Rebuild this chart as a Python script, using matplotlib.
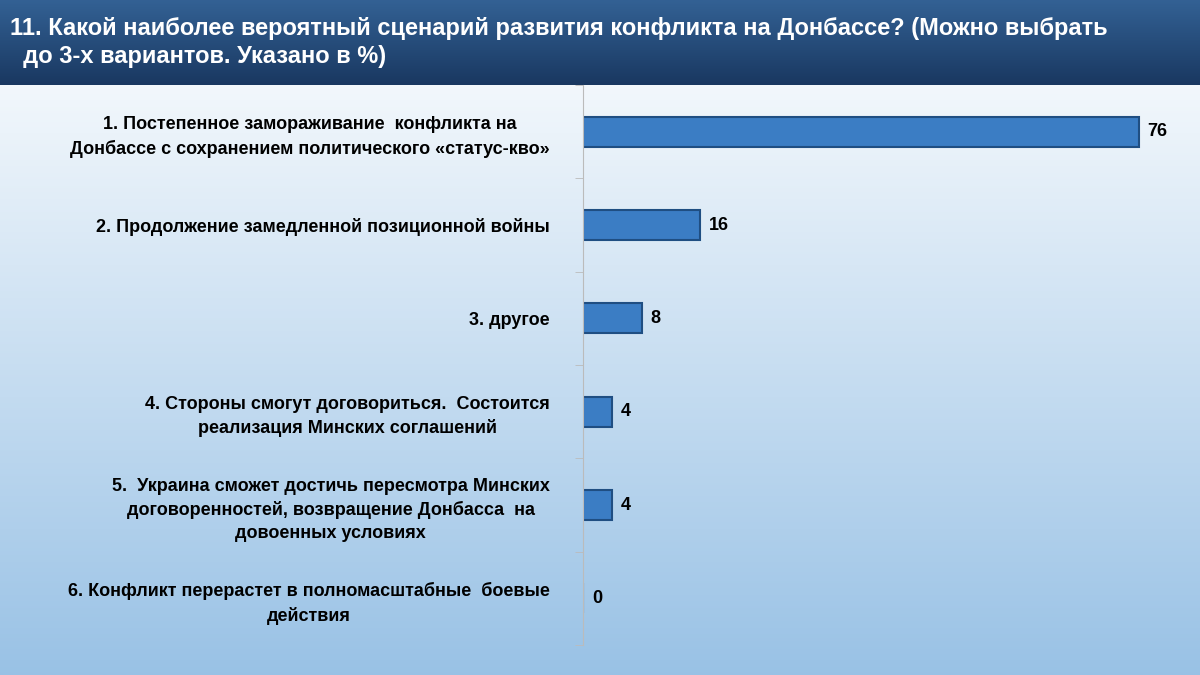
import numpy as np
from matplotlib import pyplot as plt

plt.rcParams['font.family'] = ['Liberation Sans', 'DejaVu Sans']

labels = [
    "1. Постепенное замораживание  конфликта на\nДонбассе с сохранением политического «статус-кво»",
    "2. Продолжение замедленной позиционной войны",
    "3. другое",
    "4. Стороны смогут договориться.  Состоится\nреализация Минских соглашений",
    "5.  Украина сможет достичь пересмотра Минских\nдоговоренностей, возвращение Донбасса  на\nдовоенных условиях",
    "6. Конфликт перерастет в полномасштабные  боевые\nдействия",
]
values = [76, 16, 8, 4, 4, 0]
title = "11. Какой наиболее вероятный сценарий развития конфликта на Донбассе? (Можно выбрать\n  до 3-х вариантов. Указано в %)"

fig = plt.figure(figsize=(12, 6.75), dpi=100)

# background gradient
bg = fig.add_axes([0, 0, 1, 1])
grad = np.linspace(0, 1, 256).reshape(-1, 1)
top = np.array([1.0, 1.0, 1.0])
bot = np.array([0.60, 0.76, 0.90])
img = top + (bot - top) * grad[..., None]
bg.imshow(img, aspect="auto", extent=[0, 1, 0, 1], origin="upper")
bg.axis("off")

# title bar
tb = fig.add_axes([0, 1 - 85 / 675, 1, 85 / 675])
tg = np.linspace(0, 1, 64).reshape(-1, 1)
c1 = np.array([0.20, 0.38, 0.58])
c2 = np.array([0.10, 0.22, 0.38])
tb.imshow(c1 + (c2 - c1) * tg[..., None], aspect="auto", extent=[0, 1, 0, 1], origin="upper")
tb.axis("off")
tb.text(0.008, 0.5, title, color="white", fontsize=17, fontweight="bold",
        va="center", ha="left", transform=tb.transAxes, linespacing=1.25)

ax = fig.add_axes([583 / 1200, 30 / 675, (1190 - 583) / 1200, (590 - 30) / 675])
ax.patch.set_alpha(0)
y = np.arange(len(values))
ax.barh(y, values, height=0.32, color="#3b7dc4", edgecolor="#1f4e82", linewidth=1.5)
for yi, v in zip(y, values):
    ax.text(v + 1.2, yi, str(v), va="center", ha="left", fontsize=13, fontweight="bold")
ax.set_xlim(0, 83)
ax.set_ylim(len(values) - 0.5, -0.5)
ax.set_yticks(y)
ax.set_yticklabels(labels, fontsize=13, fontweight="bold", linespacing=1.45,
                   multialignment="center")
ax.set_yticks(np.arange(-0.5, len(values), 1), minor=True)
ax.tick_params(axis="y", which="major", length=0, pad=24)
ax.tick_params(axis="y", which="minor", length=6, color="#bbbbbb")
ax.set_xticks([])
for s in ["top", "right", "bottom"]:
    ax.spines[s].set_visible(False)
ax.spines["left"].set_color("#bbbbbb")

fig.savefig("out.png", dpi=100)
